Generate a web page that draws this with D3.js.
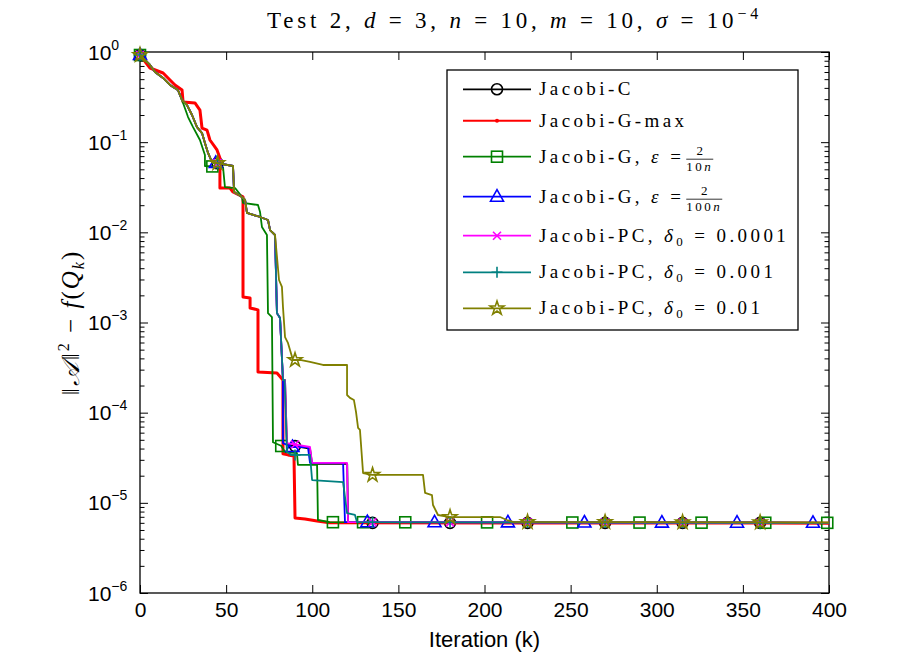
<!DOCTYPE html>
<html>
<head>
<meta charset="utf-8">
<script src="https://cdn.jsdelivr.net/npm/d3@7"></script>
<style>
  body { margin: 0; background: #fff; }
  svg { display: block; }
</style>
</head>
<body>
<svg width="917" height="667"></svg>
<script>
// Values: [iteration, ||A||^2 - f(Q_k)]
const xTicks = [0, 50, 100, 150, 200, 250, 300, 350, 400];
const yDecades = [1e0, 1e-1, 1e-2, 1e-3, 1e-4, 1e-5, 1e-6];
const yExponents = ["0", "\u22121", "\u22122", "\u22123", "\u22124", "\u22125", "\u22126"];

// shared first part of the curves (C, G 2/100n, PC variants)
const commonHead = [[0, 0.926], [5.8, 0.718], [8.7, 0.60], [13.4, 0.515], [17.4, 0.431],
  [22, 0.379], [24.4, 0.294], [27.3, 0.258], [30.2, 0.200], [33.1, 0.147], [36, 0.126],
  [37.7, 0.098], [39.5, 0.0759], [41.8, 0.060], [54, 0.0544], [54.6, 0.028], [59.2, 0.0247],
  [61, 0.0229], [62.1, 0.0164], [69.7, 0.0148], [74.3, 0.0137], [75.5, 0.0106], [78.4, 0.00934]];
const groupDrop = [[79.5, 0.00127], [81.3, 0.00112], [83, 0.00023]];

const jacobiC = commonHead.concat(groupDrop, [[84.2, 0.00023], [85.3, 4.4e-5], [98.7, 4.0e-5],
  [99.9, 2.7e-5], [120.3, 2.7e-5], [120.8, 6.0e-6], [400, 6.0e-6]]);

const jacobiGmax = [[0, 0.926], [5.8, 0.665], [13.4, 0.585], [17.4, 0.489], [20.3, 0.431],
  [24.4, 0.379], [25, 0.279], [31.9, 0.272], [34.8, 0.227], [36, 0.1435], [38.9, 0.136],
  [40.6, 0.1057], [44.7, 0.0819], [46.4, 0.0667], [46.4, 0.031], [52.2, 0.031], [54, 0.028],
  [59.8, 0.0247], [59.8, 0.00192], [63.9, 0.00187], [63.9, 0.00145], [68.5, 0.00138],
  [68.5, 0.000282], [79.5, 0.000275], [83, 0.00023], [83, 3.5e-5], [85.9, 3.4e-5],
  [89.4, 3.3e-5], [90, 6.79e-6], [95.8, 6.62e-6], [102.8, 6.29e-6], [110, 6.0e-6], [400, 5.95e-6]];

const jacobiG10 = [[0, 0.926], [5.8, 0.718], [8.7, 0.60], [13.4, 0.515], [17.4, 0.431],
  [22, 0.379], [25, 0.272], [27.9, 0.19], [30.8, 0.147], [34.8, 0.1057], [37.7, 0.0721],
  [37.7, 0.0544], [48.2, 0.053], [49.3, 0.0318], [55.2, 0.031], [59.2, 0.0247], [59.8, 0.0212],
  [68.5, 0.0201], [69.7, 0.0168], [70.8, 0.01146], [73.7, 0.00934], [74.3, 0.00127],
  [76.6, 0.00115], [77.2, 4.7e-5], [81.9, 4.3e-5], [84.2, 3.66e-5], [91.1, 3.57e-5],
  [91.7, 2.63e-5], [102.8, 2.63e-5], [103.3, 6.45e-6], [110, 6.1e-6], [400, 6.0e-6]];

const jacobiG100 = commonHead.concat(groupDrop, [[83, 4.6e-5], [88.2, 4.16e-5], [97.5, 4.16e-5],
  [98.7, 2.77e-5], [117.9, 2.77e-5], [119, 6.1e-6], [400, 6.0e-6]]);

const jacobiPC4 = commonHead.concat(groupDrop, [[84.2, 0.00023], [85.3, 4.6e-5], [98.7, 4.16e-5],
  [99.9, 2.77e-5], [120.2, 2.77e-5], [120.8, 6.1e-6], [400, 6.0e-6]]);

const jacobiPC3 = commonHead.concat(groupDrop, [[84, 0.00023], [85.3, 3.66e-5], [88.2, 3.4e-5],
  [98.7, 3.4e-5], [99.9, 1.79e-5], [117.9, 1.7e-5], [120.2, 7.71e-6], [124.8, 7.33e-6],
  [126, 6.1e-6], [400, 6.0e-6]]);

const jacobiPC2 = commonHead.concat([[80.7, 0.00296], [82.4, 0.00248], [83, 0.00149],
  [84.2, 0.00069], [85.9, 0.000593], [88.8, 0.000384], [92.9, 0.000384], [98.7, 0.000365],
  [106.2, 0.000338], [120.2, 0.000338], [120.2, 0.000157], [121.9, 0.000146], [124.2, 0.000138],
  [125.4, 0.000102], [126.6, 6.77e-5], [127.7, 6.43e-5], [129.5, 2.14e-5], [134.7, 2.04e-5],
  [164.3, 2.04e-5], [165.5, 1.29e-5], [169.5, 1.22e-5], [170.1, 9.46e-6], [173, 7.33e-6],
  [180, 6.96e-6], [209, 6.96e-6], [213, 6.45e-6], [216.5, 6.14e-6], [400, 6.05e-6]]);

// iterations where the markers sit
const everyFortyFive = [0, 45, 90, 135, 180, 225, 270, 315, 360];
const squareIters = [0, 42, 82, 112, 129.5, 154, 201.5, 251, 290, 326, 363, 399];
const triangleIters = [0, 44, 88.5, 132, 171, 213.6, 258, 303, 346.6, 390.7];

const series = [
  {data: jacobiC, color: "#000000", marker: "circle", at: everyFortyFive, width: 1.8},
  {data: jacobiGmax, color: "#ff0000", marker: "dot", at: [], width: 3},
  {data: jacobiG10, color: "#008000", marker: "square", at: squareIters, width: 1.8},
  {data: jacobiG100, color: "#0000ff", marker: "triangle", at: triangleIters, width: 1.8},
  {data: jacobiPC4, color: "#ff00ff", marker: "x", at: everyFortyFive, width: 1.8},
  {data: jacobiPC3, color: "#008080", marker: "plus", at: everyFortyFive, width: 1.8},
  {data: jacobiPC2, color: "#808000", marker: "star", at: everyFortyFive, width: 1.8}
];

const serif = "'Liberation Serif','DejaVu Serif',serif";
const sans = "'Liberation Sans Narrow','Liberation Sans',Arial,sans-serif";

const svg = d3.select("svg");
const plot = {left: 140, right: 829, top: 52, bottom: 593};

const x = d3.scaleLinear().domain([0, 400]).range([plot.left, plot.right]);
const y = d3.scaleLog().domain([1e-6, 1]).range([plot.bottom, plot.top]);

svg.append("rect").attr("width", 917).attr("height", 667).attr("fill", "#fff");

// Axes: ticks point inward like MATLAB, with box on.
const minorTicks = y.ticks().filter(d => yDecades.indexOf(d) < 0);

function axisGroup(axis, tx, ty) {
  const g = svg.append("g")
    .attr("transform", "translate(" + tx + "," + ty + ")")
    .call(axis);
  // d3 sets its own font on the group, so override it afterwards
  g.attr("font-family", sans).attr("font-size", 21);
  g.select(".domain").remove();
  g.selectAll(".tick line").attr("stroke", "#000").attr("stroke-width", 1);
  return g;
}

axisGroup(d3.axisBottom(x).tickValues(xTicks).tickSize(-8).tickPadding(9), 0, plot.bottom)
  .selectAll("text").attr("fill", "#000");
axisGroup(d3.axisTop(x).tickValues(xTicks).tickSize(-8).tickFormat(""), 0, plot.top);
axisGroup(d3.axisLeft(y).tickValues(yDecades).tickSize(-8).tickFormat(""), plot.left, 0);
axisGroup(d3.axisRight(y).tickValues(yDecades).tickSize(-8).tickFormat(""), plot.right, 0);
axisGroup(d3.axisLeft(y).tickValues(minorTicks).tickSize(-4.5).tickFormat(""), plot.left, 0);
axisGroup(d3.axisRight(y).tickValues(minorTicks).tickSize(-4.5).tickFormat(""), plot.right, 0);

svg.append("rect")
  .attr("x", plot.left).attr("y", plot.top)
  .attr("width", plot.right - plot.left).attr("height", plot.bottom - plot.top)
  .attr("fill", "none").attr("stroke", "#000").attr("stroke-width", 1.3);

// y tick labels 10^k
svg.append("g").selectAll("text")
  .data(yDecades)
  .enter()
  .append("text")
  .attr("x", 88)
  .attr("y", d => y(d) + 7.5)
  .attr("font-family", sans)
  .attr("font-size", 21)
  .each(function(d, i) {
    const t = d3.select(this);
    t.append("tspan").text("10");
    t.append("tspan").attr("dy", -10).attr("font-size", 14).text(yExponents[i]);
  });

svg.append("text")
  .attr("x", (plot.left + plot.right) / 2)
  .attr("y", 647)
  .attr("text-anchor", "middle")
  .attr("font-family", sans)
  .attr("font-size", 22)
  .text("Iteration (k)");

// y label ||A||^2 - f(Q_k)
const yl = svg.append("text")
  .attr("transform", "translate(79," + ((plot.top + plot.bottom) / 2) + ") rotate(-90)")
  .attr("text-anchor", "middle")
  .attr("font-family", serif)
  .attr("font-size", 25)
  .attr("letter-spacing", 2);
yl.append("tspan").text("\u2016");
yl.append("tspan").attr("font-style", "italic").text("\ud835\udc9c");
yl.append("tspan").text("\u2016");
yl.append("tspan").attr("dy", -10).attr("font-size", 16).text("2");
yl.append("tspan").attr("dy", 10).text(" \u2212 ");
yl.append("tspan").attr("font-style", "italic").text("f");
yl.append("tspan").text("(");
yl.append("tspan").attr("font-style", "italic").text("Q");
yl.append("tspan").attr("dy", 5).attr("font-size", 16).attr("font-style", "italic").text("k");
yl.append("tspan").attr("dy", -5).text(")");

// title
const title = svg.append("text")
  .attr("x", 267)
  .attr("y", 28)
  .attr("font-family", serif)
  .attr("font-size", 23);
[["Test 2, "], ["d", 1], [" = 3, "], ["n", 1], [" = 10, "], ["m", 1], [" = 10, "],
 ["\u03c3", 1], [" = 10"]].forEach(p => {
  title.append("tspan").attr("font-style", p[1] ? "italic" : null).text(p[0]);
});
title.append("tspan").attr("dy", -9).attr("font-size", 16).text("\u22124");
// spread the letters out the way the LaTeX title is set
const titleLen = title.node().getComputedTextLength();
const titleChars = title.text().length;
title.attr("letter-spacing", (495 - titleLen) / titleChars);

// data
const line = d3.line().x(d => x(d[0])).y(d => y(d[1]));

function valueAt(data, it) {
  for (let i = 1; i < data.length; i++) {
    const a = data[i - 1], b = data[i];
    if (it <= b[0]) {
      if (b[0] === a[0]) return b[1];
      const t = (it - a[0]) / (b[0] - a[0]);
      return Math.pow(10, Math.log10(a[1]) + t * (Math.log10(b[1]) - Math.log10(a[1])));
    }
  }
  return data[data.length - 1][1];
}

function drawMarker(g, type, color, cx, cy) {
  const m = g.append("g").attr("transform", "translate(" + cx + "," + cy + ")");
  if (type === "circle") {
    m.append("circle").attr("r", 5.5).attr("fill", "none").attr("stroke", color).attr("stroke-width", 1.6);
  } else if (type === "dot") {
    m.append("circle").attr("r", 2).attr("fill", color);
  } else if (type === "square") {
    m.append("rect").attr("x", -5.5).attr("y", -5.5).attr("width", 11).attr("height", 11)
      .attr("fill", "none").attr("stroke", color).attr("stroke-width", 1.6);
  } else if (type === "triangle") {
    m.append("path").attr("d", "M0,-7L6.5,4.5L-6.5,4.5Z")
      .attr("fill", "none").attr("stroke", color).attr("stroke-width", 1.6);
  } else if (type === "x") {
    m.append("path").attr("d", "M-4,-4L4,4M-4,4L4,-4")
      .attr("stroke", color).attr("stroke-width", 1.6);
  } else if (type === "plus") {
    m.append("path").attr("d", "M-5.5,0H5.5M0,-5.5V5.5")
      .attr("stroke", color).attr("stroke-width", 1.6);
  } else if (type === "star") {
    m.append("path").attr("d", d3.symbol(d3.symbolStar, 60)())
      .attr("fill", "none").attr("stroke", color).attr("stroke-width", 1.6);
  }
}

const content = svg.append("g");
series.forEach(s => {
  content.append("path")
    .attr("d", line(s.data))
    .attr("fill", "none")
    .attr("stroke", s.color)
    .attr("stroke-width", s.width)
    .attr("stroke-linejoin", "round");
  s.at.forEach(it => drawMarker(content, s.marker, s.color, x(it), y(valueAt(s.data, it))));
});

// legend
const legendRows = [89.3, 120.7, 156.7, 196.7, 235.7, 272.3, 308.3];
const legendLabels = [
  [["Jacobi-C"]],
  [["Jacobi-G-max"]],
  [["Jacobi-G, "], ["\u03b5", "i"], [" = "]],
  [["Jacobi-G, "], ["\u03b5", "i"], [" = "]],
  [["Jacobi-PC, "], ["\u03b4", "i"], ["0", "sub"], [" = 0.0001"]],
  [["Jacobi-PC, "], ["\u03b4", "i"], ["0", "sub"], [" = 0.001"]],
  [["Jacobi-PC, "], ["\u03b4", "i"], ["0", "sub"], [" = 0.01"]]
];
const legendFractions = [null, null, ["2", "10"], ["2", "100"], null, null, null];

const legend = svg.append("g");
legend.append("rect")
  .attr("x", 447).attr("y", 70).attr("width", 351).attr("height", 260)
  .attr("fill", "#fff").attr("stroke", "#000").attr("stroke-width", 1.3);

series.forEach((s, i) => {
  const ly = legendRows[i];
  legend.append("line")
    .attr("x1", 463).attr("x2", 531).attr("y1", ly).attr("y2", ly)
    .attr("stroke", s.color).attr("stroke-width", s.width === 3 ? 2 : s.width);
  drawMarker(legend, s.marker, s.color, 497, ly);

  const t = legend.append("text")
    .attr("x", 539).attr("y", ly + 6)
    .attr("font-family", serif)
    .attr("font-size", 19)
    .attr("letter-spacing", 3.4);
  legendLabels[i].forEach(p => {
    const sp = t.append("tspan").text(p[0]);
    if (p[1] === "i") sp.attr("font-style", "italic");
    if (p[1] === "sub") sp.attr("font-size", 13).attr("dy", 4);
    else if (i >= 4 && p[0].indexOf("=") >= 0) sp.attr("dy", -4);
  });

  const frac = legendFractions[i];
  if (frac) {
    const fx = 539 + t.node().getComputedTextLength() + 2;
    const fy = ly + 2.5;
    const den = legend.append("text")
      .attr("x", fx).attr("y", fy + 11.5)
      .attr("font-family", serif).attr("font-size", 13).attr("letter-spacing", 2.5);
    den.append("tspan").text(frac[1]);
    den.append("tspan").attr("font-style", "italic").text("n");
    const w = den.node().getComputedTextLength();
    legend.append("line")
      .attr("x1", fx).attr("x2", fx + w).attr("y1", fy).attr("y2", fy)
      .attr("stroke", "#000").attr("stroke-width", 0.8);
    legend.append("text")
      .attr("x", fx + w / 2).attr("y", fy - 4.5)
      .attr("text-anchor", "middle")
      .attr("font-family", serif).attr("font-size", 13)
      .text(frac[0]);
  }
});
</script>
</body>
</html>
